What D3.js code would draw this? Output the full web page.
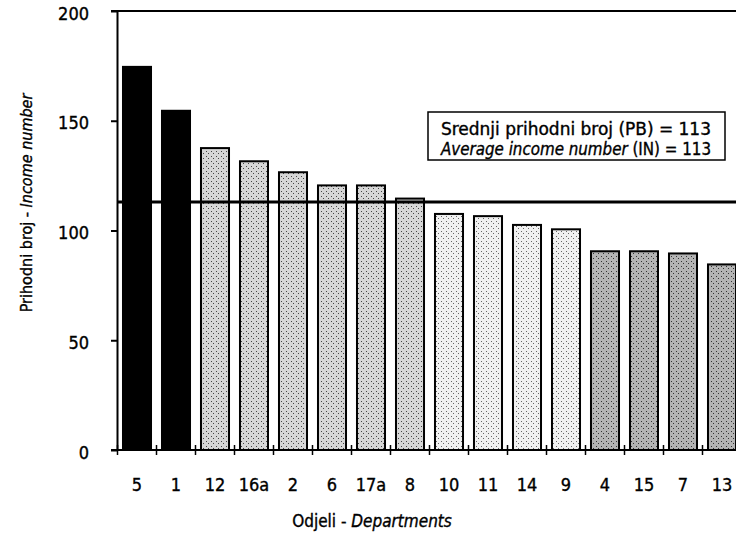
<!DOCTYPE html>
<html>
<head>
<meta charset="utf-8">
<script src="https://cdn.jsdelivr.net/npm/d3@7"></script>
<style>
  body { margin: 0; background: #fff; }
  text { font-family: "Liberation Sans Narrow", "Arial Narrow", "DejaVu Sans Condensed", sans-serif; fill: #000; stroke: #000; stroke-width: 0.35px; }
</style>
</head>
<body>
<svg id="chart" width="736" height="533"></svg>
<script>
// data
var departments = ["5", "1", "12", "16a", "2", "6", "17a", "8", "10", "11", "14", "9", "4", "15", "7", "13"];
var incomeNumbers = [175, 155, 138, 132, 127, 121, 121, 115, 108, 107, 103, 101, 91, 91, 90, 85];
var shades = ["black", "black", "mid", "mid", "mid", "mid", "mid", "mid", "light", "light", "light", "light", "dark", "dark", "dark", "dark"];
var yTicks = [0, 50, 100, 150, 200];
var averageIncome = 113;

var svg = d3.select("#chart");

var x = d3.scaleBand()
    .domain(departments)
    .range([117.5, 741.5])
    .paddingInner(0.23)
    .paddingOuter(0.115);

var y = d3.scaleLinear()
    .domain([0, 200])
    .range([450, 11]);

// stipple patterns
var patternDefs = [
    {id: "light", bg: "#f0f0f0", dot: "#666"},
    {id: "mid", bg: "#d6d6d6", dot: "#444"},
    {id: "dark", bg: "#b4b4b4", dot: "#333"}
];
var defs = svg.append("defs");
patternDefs.forEach(function (p) {
    var pat = defs.append("pattern")
        .attr("id", "pat-" + p.id)
        .attr("width", 5).attr("height", 5)
        .attr("patternUnits", "userSpaceOnUse");
    pat.append("rect").attr("width", 5).attr("height", 5).attr("fill", p.bg);
    pat.append("rect").attr("x", 1).attr("y", 1).attr("width", 1).attr("height", 1).attr("fill", p.dot);
    pat.append("rect").attr("x", 3).attr("y", 3).attr("width", 1).attr("height", 1).attr("fill", p.dot);
});

var bars = departments.map(function (d, i) {
    return {dept: d, value: incomeNumbers[i], shade: shades[i]};
});

// bars
svg.append("g").selectAll("rect")
    .data(bars)
    .enter()
    .append("rect")
    .attr("x", function (d) { return x(d.dept) + 1; })
    .attr("y", function (d) { return y(d.value) + 1; })
    .attr("width", x.bandwidth() - 2)
    .attr("height", function (d) { return y(0) - y(d.value) - 1; })
    .attr("fill", function (d) { return d.shade == "black" ? "#000" : "url(#pat-" + d.shade + ")"; })
    .attr("stroke", "#000")
    .attr("stroke-width", 2);

// top frame line
svg.append("line")
    .attr("x1", 111).attr("x2", 736)
    .attr("y1", y(200)).attr("y2", y(200))
    .attr("stroke", "#000").attr("stroke-width", 2);

// y axis
var yAxis = svg.append("g")
    .attr("transform", "translate(117,0)")
    .call(d3.axisLeft(y).tickValues(yTicks).tickSizeInner(6).tickSizeOuter(0).tickPadding(22));
yAxis.selectAll("path, line").attr("stroke", "#000").attr("stroke-width", 2);
yAxis.selectAll("text")
    .style("font-size", "18px")
    .attr("dy", "0.45em");

// bottom axis line and boundary ticks
svg.append("line")
    .attr("x1", 111).attr("x2", 736)
    .attr("y1", y(0)).attr("y2", y(0))
    .attr("stroke", "#000").attr("stroke-width", 2);

var gap = x.step() * x.paddingInner() / 2;
svg.append("g").selectAll("line")
    .data(departments)
    .enter()
    .append("line")
    .attr("x1", function (d) { return x(d) - gap; })
    .attr("x2", function (d) { return x(d) - gap; })
    .attr("y1", y(0) - 5).attr("y2", y(0) + 5)
    .attr("stroke", "#000").attr("stroke-width", 1.5);

svg.append("g").selectAll("text")
    .data(departments)
    .enter()
    .append("text")
    .attr("x", function (d) { return x(d) + x.bandwidth() / 2; })
    .attr("y", 491)
    .attr("text-anchor", "middle")
    .style("font-size", "18px")
    .text(function (d) { return d; });

// average line
svg.append("line")
    .attr("x1", 117).attr("x2", 736)
    .attr("y1", y(averageIncome)).attr("y2", y(averageIncome))
    .attr("stroke", "#000").attr("stroke-width", 3);

// legend box
svg.append("rect")
    .attr("x", 428).attr("y", 112)
    .attr("width", 297).attr("height", 48)
    .attr("fill", "#fff")
    .attr("stroke", "#000").attr("stroke-width", 1.5);

svg.append("text")
    .attr("x", 441).attr("y", 135)
    .attr("textLength", 270)
    .attr("lengthAdjust", "spacingAndGlyphs")
    .style("font-size", "17.5px")
    .text("Srednji prihodni broj (PB) = " + averageIncome);

var leg2 = svg.append("text")
    .attr("x", 441).attr("y", 155)
    .attr("textLength", 270)
    .attr("lengthAdjust", "spacingAndGlyphs")
    .style("font-size", "17.5px");
leg2.append("tspan").style("font-style", "italic").text("Average income number");
leg2.append("tspan").text(" (IN) = " + averageIncome);

// axis titles
var yTitle = svg.append("text")
    .attr("transform", "translate(32,203) rotate(-90)")
    .attr("text-anchor", "middle")
    .style("font-size", "16px");
yTitle.append("tspan").text("Prihodni broj -  ");
yTitle.append("tspan").style("font-style", "italic").text("Income number");

var xTitle = svg.append("text")
    .attr("x", 372).attr("y", 527)
    .attr("text-anchor", "middle")
    .style("font-size", "17px");
xTitle.append("tspan").text("Odjeli - ");
xTitle.append("tspan").style("font-style", "italic").text("Departments");
</script>
</body>
</html>
